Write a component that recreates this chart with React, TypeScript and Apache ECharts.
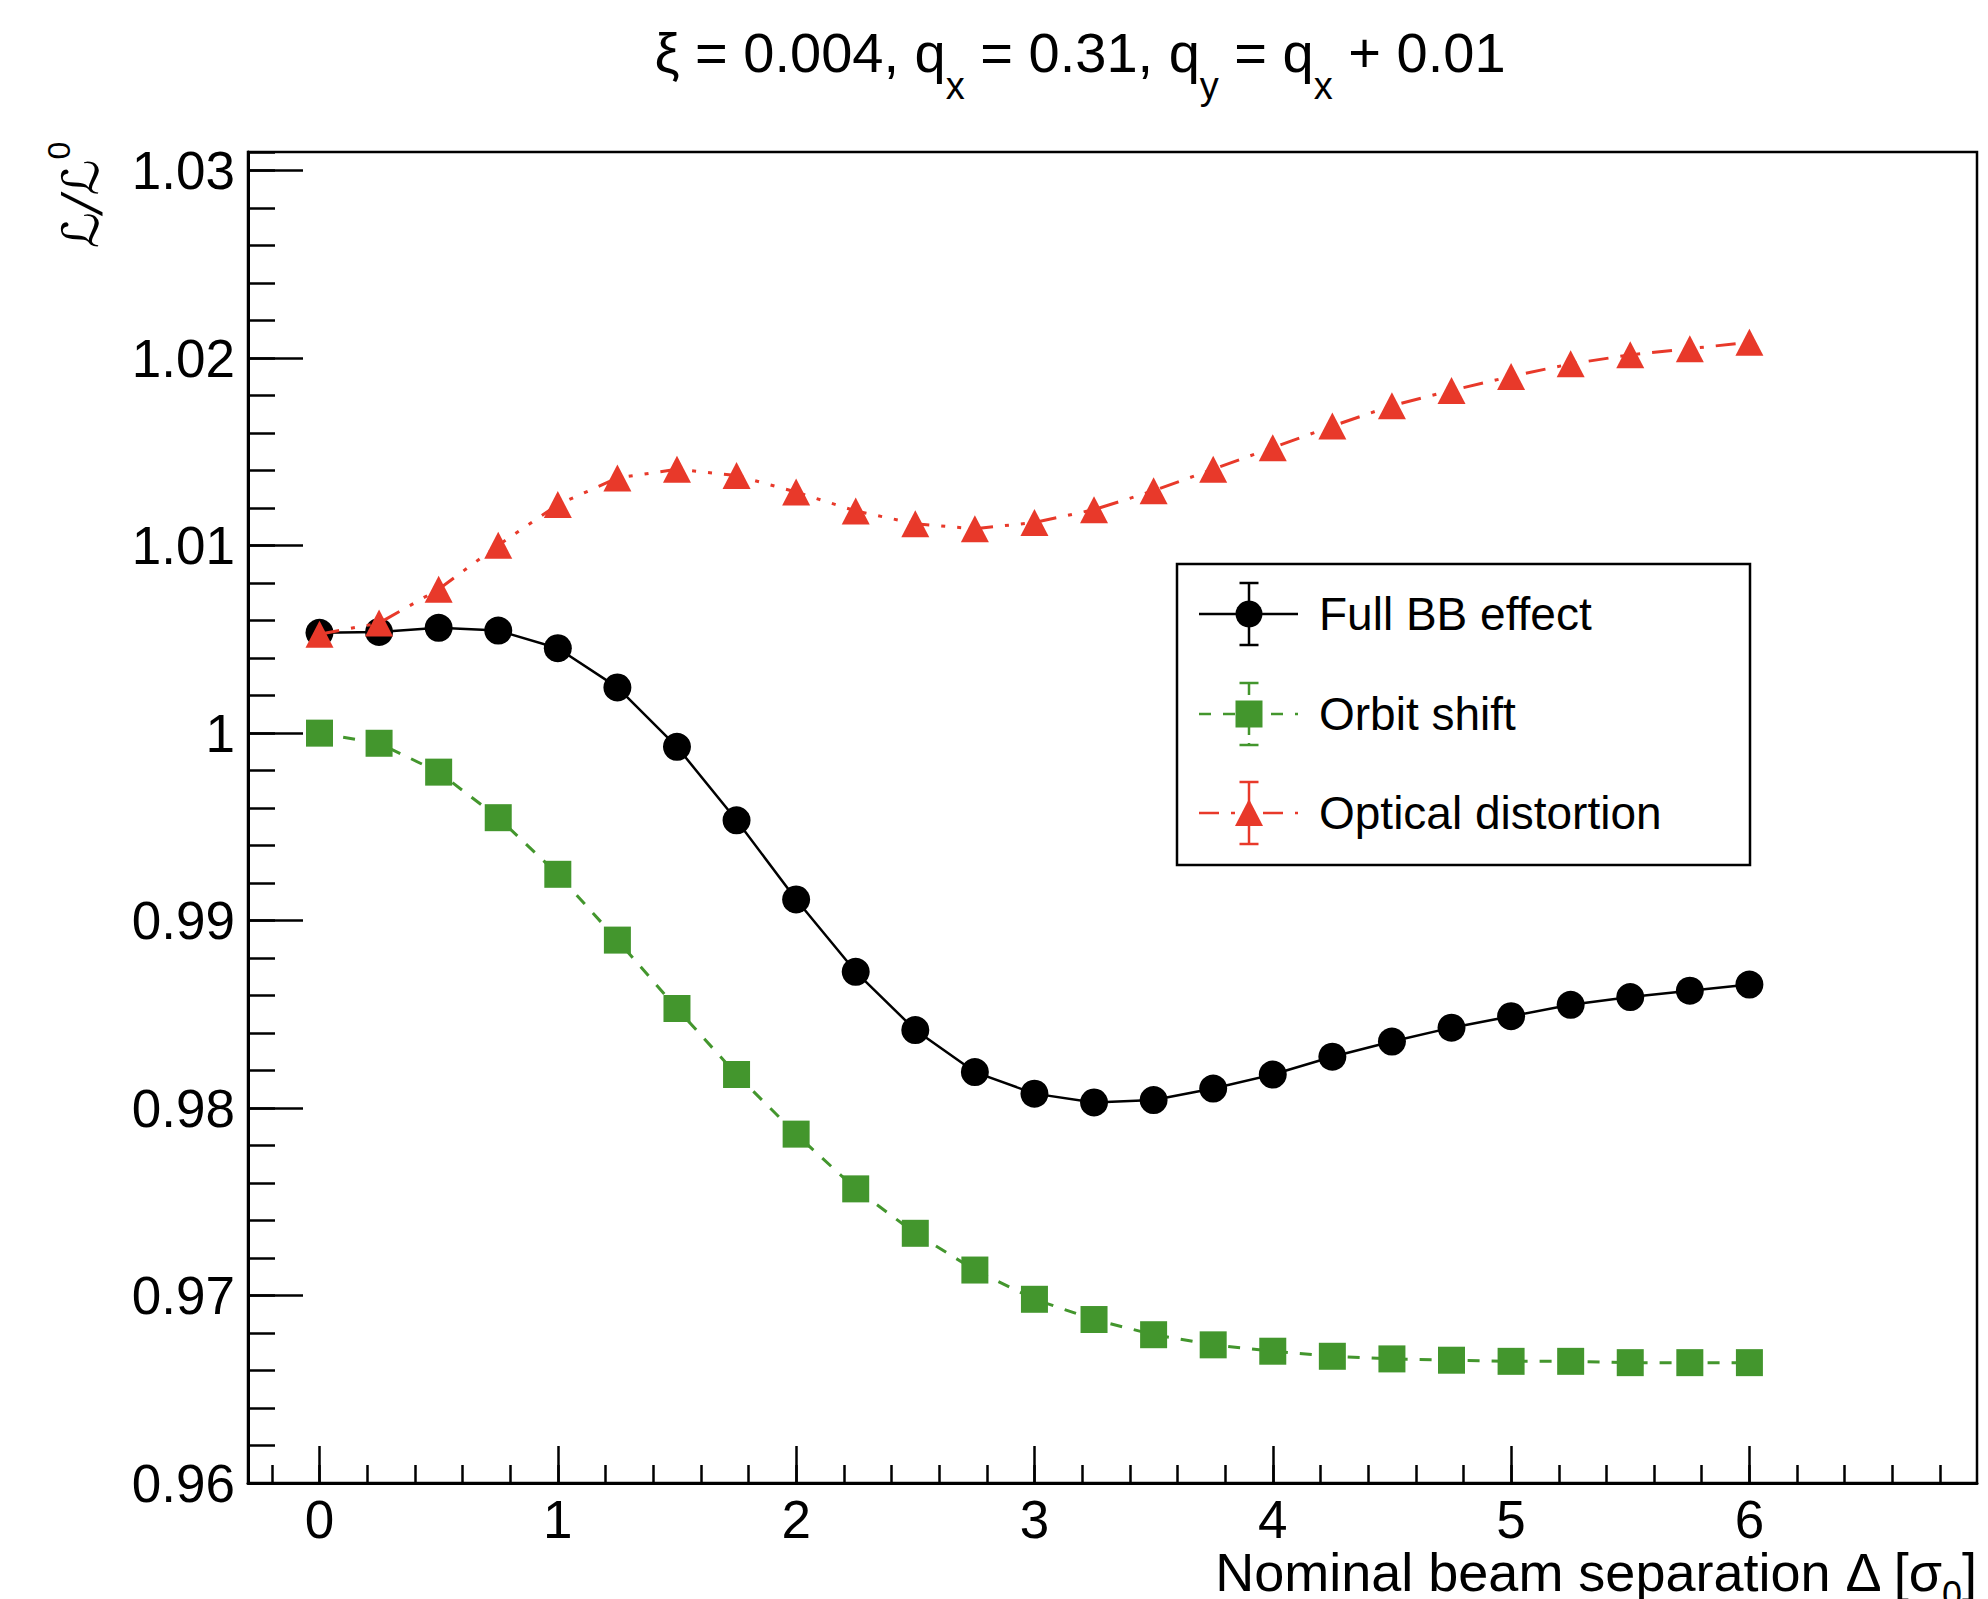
import React, { useEffect, useRef } from "react";
import * as echarts from "echarts";

// Nominal beam separation (in units of sigma_0) at which luminosity ratios were evaluated
const separation = [0, 0.25, 0.5, 0.75, 1, 1.25, 1.5, 1.75, 2, 2.25, 2.5, 2.75, 3, 3.25, 3.5, 3.75, 4, 4.25, 4.5, 4.75, 5, 5.25, 5.5, 5.75, 6];

// L / L0 for each contribution
const fullBB = [1.00535, 1.0054, 1.00562, 1.00547, 1.00453, 1.00244, 0.99927, 0.99535, 0.99113, 0.98727, 0.98416, 0.98192, 0.98077, 0.9803, 0.98043, 0.98104, 0.98179, 0.98274, 0.98355, 0.98429, 0.9849, 0.98551, 0.98592, 0.98626, 0.98659];
const orbitShift = [1.0, 0.99946, 0.99792, 0.99549, 0.99247, 0.98896, 0.98531, 0.98179, 0.97861, 0.97569, 0.97332, 0.97136, 0.9698, 0.96872, 0.96791, 0.96737, 0.96703, 0.96676, 0.96662, 0.96655, 0.96649, 0.96649, 0.96642, 0.96642, 0.96642];
const opticalDistortion = [1.00528, 1.00587, 1.00768, 1.01002, 1.01219, 1.01361, 1.01408, 1.01374, 1.01286, 1.01185, 1.01117, 1.0109, 1.01124, 1.01192, 1.01293, 1.01408, 1.01523, 1.01638, 1.01747, 1.01828, 1.01903, 1.0197, 1.02018, 1.02051, 1.02085];

const seriesNames = ["Full BB effect", "Orbit shift", "Optical distortion"];

// Axis ranges and tick steps
const X_MIN = -0.3;
const X_MAX = 6.955;
const X_MAJOR_FROM = 0;
const X_MAJOR_TO = 6;
const X_MAJOR_STEP = 1;
const X_MINOR_FROM = -0.2;
const X_MINOR_TO = 6.8;
const X_MINOR_STEP = 0.2;
const Y_MIN = 0.96;
const Y_MAX = 1.031;
const Y_MAJOR_STEP = 0.01;
const Y_MINOR_STEP = 0.002;

// Frame geometry (pixels)
const FRAME_LEFT = 248;
const FRAME_TOP = 152;
const FRAME_WIDTH = 1729;
const FRAME_HEIGHT = 1331;

const FONT = "'Liberation Sans', Arial, Helvetica, sans-serif";
const BLACK = "#000000";
const GREEN = "#43962d";
const RED = "#e8392a";

// Horizontal pixel position of an x value inside the frame
const xPixel = (v: number) => FRAME_LEFT + ((v - X_MIN) / (X_MAX - X_MIN)) * FRAME_WIDTH;

// A grid sharing the frame's vertical extent, spanning [from, to] on x
const tickGrid = (from: number, to: number) => {
  const left = xPixel(from);
  return { left, top: FRAME_TOP, width: xPixel(to) - left, height: FRAME_HEIGHT };
};

function buildLegend() {
  const boxX = 1177;
  const boxY = 564;
  const lineX1 = 1199;
  const lineX2 = 1298;
  const markX = 1249;
  const textX = 1319;
  const rows = [614, 714, 813];
  const half = 31;
  const cap = 9.5;
  const colors = [BLACK, GREEN, RED];
  const dashes: (number[] | null)[] = [null, [12, 12], [20, 12, 4, 12, 4, 12]];
  const children: any[] = [
    {
      type: "rect",
      shape: { x: boxX, y: boxY, width: 573, height: 301 },
      style: { fill: "#ffffff", stroke: BLACK, lineWidth: 2.5 },
    },
  ];
  rows.forEach((cy, i) => {
    const c = colors[i];
    const dash = dashes[i];
    children.push({
      type: "line",
      shape: { x1: lineX1, y1: cy, x2: lineX2, y2: cy },
      style: { stroke: c, lineWidth: 2.5, lineDash: dash || undefined },
    });
    children.push({
      type: "line",
      shape: { x1: markX, y1: cy - half, x2: markX, y2: cy + half },
      style: { stroke: c, lineWidth: 2.5, lineDash: i === 1 ? [12, 8] : undefined },
    });
    children.push({
      type: "line",
      shape: { x1: markX - cap, y1: cy - half, x2: markX + cap, y2: cy - half },
      style: { stroke: c, lineWidth: 2.5 },
    });
    children.push({
      type: "line",
      shape: { x1: markX - cap, y1: cy + half, x2: markX + cap, y2: cy + half },
      style: { stroke: c, lineWidth: 2.5 },
    });
    if (i === 0) {
      children.push({ type: "circle", shape: { cx: markX, cy, r: 13.5 }, style: { fill: c } });
    } else if (i === 1) {
      children.push({ type: "rect", shape: { x: markX - 13.5, y: cy - 13.5, width: 27, height: 27 }, style: { fill: c } });
    } else {
      children.push({
        type: "polygon",
        shape: { points: [[markX, cy - 14], [markX - 14, cy + 13], [markX + 14, cy + 13]] },
        style: { fill: c },
      });
    }
    children.push({
      type: "text",
      x: textX,
      y: cy,
      style: { text: seriesNames[i], fill: BLACK, fontSize: 46, fontFamily: FONT, align: "left", verticalAlign: "middle" },
    });
  });
  return { type: "group", z: 100, children };
}

export default function App() {
  const ref = useRef<HTMLDivElement>(null);

  useEffect(() => {
    if (!ref.current) return;
    const chart = echarts.init(ref.current, undefined, { renderer: "svg" });

    const pts = (ys: number[]) => separation.map((x, i) => [x, ys[i]]);

    const option: any = {
      animation: false,
      backgroundColor: "#ffffff",
      textStyle: { fontFamily: FONT },
      grid: [
        {
          left: FRAME_LEFT,
          top: FRAME_TOP,
          width: FRAME_WIDTH,
          height: FRAME_HEIGHT,
          show: true,
          borderColor: BLACK,
          borderWidth: 2.5,
          backgroundColor: "transparent",
        },
        tickGrid(X_MAJOR_FROM, X_MAJOR_TO),
        tickGrid(X_MINOR_FROM, X_MINOR_TO),
      ],
      xAxis: [
        {
          gridIndex: 0,
          type: "value",
          min: X_MIN,
          max: X_MAX,
          axisLine: { show: true, onZero: false, lineStyle: { color: BLACK, width: 3 } },
          axisTick: { show: false },
          axisLabel: { show: false },
          splitLine: { show: false },
        },
        {
          gridIndex: 1,
          type: "value",
          min: X_MAJOR_FROM,
          max: X_MAJOR_TO,
          interval: X_MAJOR_STEP,
          axisLine: { show: false, onZero: false },
          axisTick: { show: true, inside: true, length: 37, lineStyle: { color: BLACK, width: 2.5 } },
          axisLabel: { show: true, fontSize: 53, color: BLACK, fontFamily: FONT, margin: 10 },
          splitLine: { show: false },
        },
        {
          gridIndex: 2,
          type: "value",
          min: X_MINOR_FROM,
          max: X_MINOR_TO,
          interval: X_MINOR_STEP,
          axisLine: { show: false, onZero: false },
          axisTick: { show: true, inside: true, length: 18, lineStyle: { color: BLACK, width: 2.5 } },
          axisLabel: { show: false },
          splitLine: { show: false },
        },
      ],
      yAxis: [
        {
          gridIndex: 0,
          type: "value",
          position: "left",
          min: Y_MIN,
          max: Y_MAX,
          interval: Y_MAJOR_STEP,
          axisLine: { show: true, onZero: false, lineStyle: { color: BLACK, width: 3 } },
          axisTick: { show: true, inside: true, length: 55, lineStyle: { color: BLACK, width: 2.5 } },
          axisLabel: { show: true, fontSize: 53, color: BLACK, fontFamily: FONT, margin: 13, showMaxLabel: false },
          splitLine: { show: false },
        },
        {
          gridIndex: 0,
          type: "value",
          position: "left",
          offset: 0,
          min: Y_MIN,
          max: Y_MAX,
          interval: Y_MINOR_STEP,
          axisLine: { show: false, onZero: false },
          axisTick: { show: true, inside: true, length: 27, lineStyle: { color: BLACK, width: 2.5 } },
          axisLabel: { show: false },
          splitLine: { show: false },
        },
        { gridIndex: 1, type: "value", min: 0, max: 1, show: false, axisLine: { onZero: false } },
        { gridIndex: 2, type: "value", min: 0, max: 1, show: false, axisLine: { onZero: false } },
      ],
      series: [
        {
          name: seriesNames[0],
          type: "line",
          xAxisIndex: 0,
          yAxisIndex: 0,
          data: pts(fullBB),
          symbol: "circle",
          symbolSize: 28,
          itemStyle: { color: BLACK },
          lineStyle: { color: BLACK, width: 2.5 },
          z: 3,
        },
        {
          name: seriesNames[1],
          type: "line",
          xAxisIndex: 0,
          yAxisIndex: 0,
          data: pts(orbitShift),
          symbol: "rect",
          symbolSize: 27,
          itemStyle: { color: GREEN },
          lineStyle: { color: GREEN, width: 3, type: [12, 12] },
          z: 4,
        },
        {
          name: seriesNames[2],
          type: "line",
          xAxisIndex: 0,
          yAxisIndex: 0,
          data: pts(opticalDistortion),
          symbol: "triangle",
          symbolSize: [28, 27],
          itemStyle: { color: RED },
          lineStyle: { color: RED, width: 3, type: [20, 12, 4, 12, 4, 12] },
          z: 5,
        },
      ],
      graphic: [
        {
          type: "text",
          x: 1080,
          y: 52,
          style: {
            text: "{n|ξ = 0.004, q}{s|x}{n| = 0.31, q}{s|y}{n| = q}{s|x}{n| + 0.01}",
            align: "center",
            verticalAlign: "middle",
            rich: {
              n: { fontSize: 56, fontFamily: FONT, fill: BLACK, lineHeight: 106, verticalAlign: "middle" },
              s: { fontSize: 38, fontFamily: FONT, fill: BLACK, lineHeight: 38, verticalAlign: "bottom" },
            },
          },
        },
        {
          type: "text",
          x: 81,
          y: 195,
          rotation: Math.PI / 2,
          style: {
            text: "{n|ℒ/ℒ}{p|0}",
            align: "center",
            verticalAlign: "middle",
            rich: {
              n: { fontSize: 50, fontFamily: "'DejaVu Serif', 'DejaVu Sans', serif", fontStyle: "italic", fill: BLACK, lineHeight: 76, verticalAlign: "middle" },
              p: { fontSize: 32, fontFamily: FONT, fill: BLACK, lineHeight: 32, verticalAlign: "top" },
            },
          },
        },
        {
          type: "text",
          x: 1977,
          y: 1572,
          style: {
            text: "{n|Nominal beam separation Δ [σ}{s|0}{n|]}",
            align: "right",
            verticalAlign: "middle",
            rich: {
              n: { fontSize: 54, fontFamily: FONT, fill: BLACK, lineHeight: 80, verticalAlign: "middle" },
              s: { fontSize: 36, fontFamily: FONT, fill: BLACK, lineHeight: 36, verticalAlign: "bottom" },
            },
          },
        },
        buildLegend(),
      ],
    };

    chart.setOption(option);
    return () => chart.dispose();
  }, []);

  return (
    <div
      ref={ref}
      style={{ position: "absolute", left: 0, top: 0, width: 1988, height: 1599, background: "#ffffff" }}
    />
  );
}
